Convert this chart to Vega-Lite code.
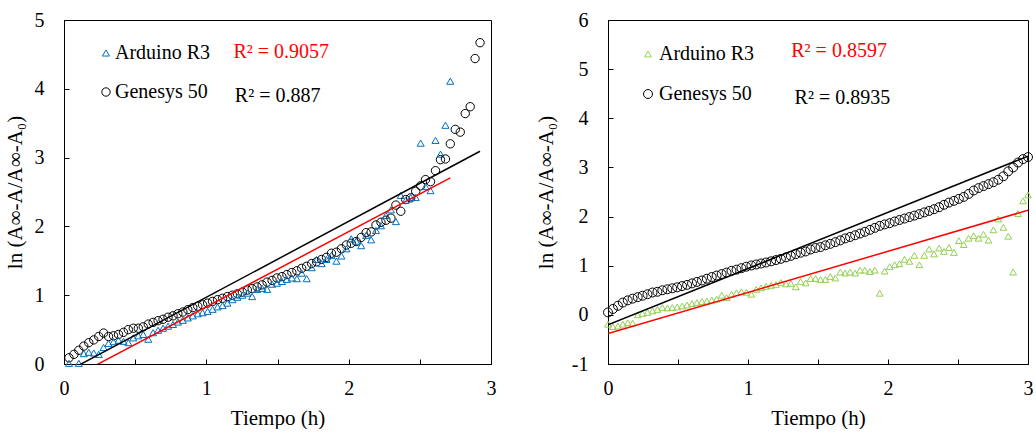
{
  "$schema": "https://vega.github.io/schema/vega-lite/v6.json",
  "background": "white",
  "padding": {"left": 3, "top": 9, "right": 0, "bottom": 0},
  "bounds": "flush",
  "spacing": 117,
  "datasets": {
    "left": [
      {"t":0.035,"Arduino R3":0.01,"Genesys 50":0.09},
      {"t":0.070,"Genesys 50":0.14},
      {"t":0.104,"Arduino R3":0.01,"Genesys 50":0.20},
      {"t":0.139,"Arduino R3":0.15,"Genesys 50":0.26},
      {"t":0.174,"Arduino R3":0.17,"Genesys 50":0.31},
      {"t":0.209,"Arduino R3":0.16,"Genesys 50":0.35},
      {"t":0.244,"Arduino R3":0.14,"Genesys 50":0.40},
      {"t":0.278,"Arduino R3":0.24,"Genesys 50":0.45},
      {"t":0.313,"Arduino R3":0.30,"Genesys 50":0.40},
      {"t":0.348,"Arduino R3":0.325,"Genesys 50":0.41},
      {"t":0.383,"Arduino R3":0.345,"Genesys 50":0.43},
      {"t":0.418,"Arduino R3":0.33,"Genesys 50":0.46},
      {"t":0.452,"Arduino R3":0.31,"Genesys 50":0.50},
      {"t":0.487,"Arduino R3":0.38,"Genesys 50":0.52},
      {"t":0.522,"Arduino R3":0.41,"Genesys 50":0.52},
      {"t":0.557,"Arduino R3":0.43,"Genesys 50":0.54},
      {"t":0.592,"Arduino R3":0.36,"Genesys 50":0.58},
      {"t":0.626,"Arduino R3":0.455,"Genesys 50":0.605},
      {"t":0.661,"Arduino R3":0.49,"Genesys 50":0.63},
      {"t":0.696,"Arduino R3":0.52,"Genesys 50":0.65},
      {"t":0.731,"Arduino R3":0.55,"Genesys 50":0.68},
      {"t":0.766,"Arduino R3":0.575,"Genesys 50":0.70},
      {"t":0.800,"Arduino R3":0.61,"Genesys 50":0.73},
      {"t":0.835,"Arduino R3":0.635,"Genesys 50":0.755},
      {"t":0.870,"Arduino R3":0.67,"Genesys 50":0.79},
      {"t":0.905,"Arduino R3":0.70,"Genesys 50":0.82},
      {"t":0.940,"Arduino R3":0.73,"Genesys 50":0.84},
      {"t":0.974,"Arduino R3":0.745,"Genesys 50":0.86},
      {"t":1.009,"Arduino R3":0.765,"Genesys 50":0.885},
      {"t":1.044,"Arduino R3":0.795,"Genesys 50":0.91},
      {"t":1.079,"Arduino R3":0.83,"Genesys 50":0.935},
      {"t":1.114,"Arduino R3":0.85,"Genesys 50":0.955},
      {"t":1.148,"Arduino R3":0.885,"Genesys 50":0.98},
      {"t":1.183,"Arduino R3":0.935,"Genesys 50":1.00},
      {"t":1.218,"Arduino R3":0.97,"Genesys 50":1.02},
      {"t":1.253,"Arduino R3":1.00,"Genesys 50":1.045},
      {"t":1.288,"Arduino R3":1.03,"Genesys 50":1.075},
      {"t":1.322,"Arduino R3":0.98,"Genesys 50":1.095},
      {"t":1.357,"Arduino R3":1.085,"Genesys 50":1.12},
      {"t":1.392,"Arduino R3":1.10,"Genesys 50":1.15},
      {"t":1.427,"Arduino R3":1.085,"Genesys 50":1.19},
      {"t":1.462,"Arduino R3":1.16,"Genesys 50":1.215},
      {"t":1.496,"Arduino R3":1.175,"Genesys 50":1.25},
      {"t":1.531,"Arduino R3":1.20,"Genesys 50":1.27},
      {"t":1.566,"Arduino R3":1.23,"Genesys 50":1.30},
      {"t":1.601,"Arduino R3":1.25,"Genesys 50":1.33},
      {"t":1.636,"Arduino R3":1.24,"Genesys 50":1.355},
      {"t":1.670,"Arduino R3":1.32,"Genesys 50":1.39},
      {"t":1.705,"Arduino R3":1.24,"Genesys 50":1.42},
      {"t":1.740,"Arduino R3":1.40,"Genesys 50":1.46},
      {"t":1.775,"Arduino R3":1.52,"Genesys 50":1.485},
      {"t":1.810,"Arduino R3":1.46,"Genesys 50":1.52},
      {"t":1.844,"Arduino R3":1.52,"Genesys 50":1.55},
      {"t":1.879,"Arduino R3":1.58,"Genesys 50":1.61},
      {"t":1.914,"Arduino R3":1.495,"Genesys 50":1.625},
      {"t":1.949,"Arduino R3":1.57,"Genesys 50":1.675},
      {"t":1.984,"Arduino R3":1.675,"Genesys 50":1.73},
      {"t":2.018,"Arduino R3":1.82,"Genesys 50":1.755},
      {"t":2.053,"Arduino R3":1.785,"Genesys 50":1.78},
      {"t":2.088,"Arduino R3":1.72,"Genesys 50":1.84},
      {"t":2.123,"Arduino R3":1.87,"Genesys 50":1.91},
      {"t":2.158,"Arduino R3":1.805,"Genesys 50":1.92},
      {"t":2.192,"Arduino R3":1.94,"Genesys 50":2.02},
      {"t":2.227,"Arduino R3":2.01,"Genesys 50":2.06},
      {"t":2.262,"Arduino R3":2.16,"Genesys 50":2.09},
      {"t":2.297,"Arduino R3":2.24,"Genesys 50":2.12},
      {"t":2.332,"Arduino R3":2.07,"Genesys 50":2.31},
      {"t":2.366,"Arduino R3":2.45,"Genesys 50":2.22},
      {"t":2.401,"Arduino R3":2.38,"Genesys 50":2.39},
      {"t":2.436,"Arduino R3":2.42,"Genesys 50":2.415},
      {"t":2.471,"Arduino R3":2.42,"Genesys 50":2.51},
      {"t":2.506,"Arduino R3":3.21,"Genesys 50":2.59},
      {"t":2.540,"Arduino R3":2.58,"Genesys 50":2.68},
      {"t":2.575,"Arduino R3":2.52,"Genesys 50":2.65},
      {"t":2.610,"Arduino R3":3.25,"Genesys 50":2.81},
      {"t":2.645,"Arduino R3":3.05,"Genesys 50":2.97},
      {"t":2.680,"Arduino R3":3.47,"Genesys 50":2.98},
      {"t":2.714,"Arduino R3":4.11,"Genesys 50":3.20},
      {"t":2.749,"Genesys 50":3.41},
      {"t":2.784,"Genesys 50":3.37},
      {"t":2.819,"Genesys 50":3.64},
      {"t":2.854,"Genesys 50":3.74},
      {"t":2.888,"Genesys 50":4.44},
      {"t":2.923,"Genesys 50":4.67}
    ],
    "right": [
      {"t":0.000,"Arduino R3":-0.19,"Genesys 50":0.05},
      {"t":0.035,"Arduino R3":-0.24,"Genesys 50":0.12},
      {"t":0.071,"Arduino R3":-0.23,"Genesys 50":0.185},
      {"t":0.106,"Arduino R3":-0.19,"Genesys 50":0.25},
      {"t":0.141,"Arduino R3":-0.16,"Genesys 50":0.295},
      {"t":0.176,"Arduino R3":-0.17,"Genesys 50":0.33},
      {"t":0.212,"Arduino R3":0.00,"Genesys 50":0.36},
      {"t":0.247,"Arduino R3":0.03,"Genesys 50":0.39},
      {"t":0.282,"Arduino R3":0.05,"Genesys 50":0.42},
      {"t":0.318,"Arduino R3":0.08,"Genesys 50":0.455},
      {"t":0.353,"Arduino R3":0.11,"Genesys 50":0.47},
      {"t":0.388,"Arduino R3":0.15,"Genesys 50":0.50},
      {"t":0.424,"Arduino R3":0.14,"Genesys 50":0.52},
      {"t":0.459,"Arduino R3":0.15,"Genesys 50":0.54},
      {"t":0.494,"Arduino R3":0.16,"Genesys 50":0.56},
      {"t":0.529,"Arduino R3":0.18,"Genesys 50":0.585},
      {"t":0.565,"Arduino R3":0.20,"Genesys 50":0.61},
      {"t":0.600,"Arduino R3":0.23,"Genesys 50":0.64},
      {"t":0.635,"Arduino R3":0.25,"Genesys 50":0.67},
      {"t":0.671,"Arduino R3":0.27,"Genesys 50":0.70},
      {"t":0.706,"Arduino R3":0.28,"Genesys 50":0.735},
      {"t":0.741,"Arduino R3":0.30,"Genesys 50":0.77},
      {"t":0.776,"Arduino R3":0.32,"Genesys 50":0.80},
      {"t":0.812,"Arduino R3":0.40,"Genesys 50":0.83},
      {"t":0.847,"Arduino R3":0.35,"Genesys 50":0.86},
      {"t":0.882,"Arduino R3":0.42,"Genesys 50":0.895},
      {"t":0.918,"Arduino R3":0.45,"Genesys 50":0.92},
      {"t":0.953,"Arduino R3":0.47,"Genesys 50":0.95},
      {"t":0.988,"Arduino R3":0.46,"Genesys 50":0.98},
      {"t":1.024,"Arduino R3":0.42,"Genesys 50":1.005},
      {"t":1.059,"Arduino R3":0.52,"Genesys 50":1.025},
      {"t":1.094,"Arduino R3":0.55,"Genesys 50":1.045},
      {"t":1.129,"Arduino R3":0.58,"Genesys 50":1.065},
      {"t":1.165,"Arduino R3":0.60,"Genesys 50":1.09},
      {"t":1.200,"Arduino R3":0.62,"Genesys 50":1.115},
      {"t":1.235,"Arduino R3":0.66,"Genesys 50":1.14},
      {"t":1.271,"Arduino R3":0.63,"Genesys 50":1.17},
      {"t":1.306,"Arduino R3":0.64,"Genesys 50":1.20},
      {"t":1.341,"Arduino R3":0.57,"Genesys 50":1.235},
      {"t":1.376,"Arduino R3":0.68,"Genesys 50":1.265},
      {"t":1.412,"Arduino R3":0.65,"Genesys 50":1.29},
      {"t":1.447,"Arduino R3":0.74,"Genesys 50":1.33},
      {"t":1.482,"Arduino R3":0.74,"Genesys 50":1.36},
      {"t":1.518,"Arduino R3":0.72,"Genesys 50":1.38},
      {"t":1.553,"Arduino R3":0.72,"Genesys 50":1.415},
      {"t":1.588,"Arduino R3":0.78,"Genesys 50":1.445},
      {"t":1.624,"Arduino R3":0.75,"Genesys 50":1.48},
      {"t":1.659,"Arduino R3":0.87,"Genesys 50":1.515},
      {"t":1.694,"Arduino R3":0.85,"Genesys 50":1.555},
      {"t":1.729,"Arduino R3":0.87,"Genesys 50":1.585},
      {"t":1.765,"Arduino R3":0.85,"Genesys 50":1.62},
      {"t":1.800,"Arduino R3":0.91,"Genesys 50":1.655},
      {"t":1.835,"Arduino R3":0.91,"Genesys 50":1.69},
      {"t":1.871,"Arduino R3":0.88,"Genesys 50":1.73},
      {"t":1.906,"Arduino R3":0.91,"Genesys 50":1.77},
      {"t":1.941,"Arduino R3":0.44,"Genesys 50":1.81},
      {"t":1.976,"Arduino R3":0.89,"Genesys 50":1.84},
      {"t":2.012,"Arduino R3":0.98,"Genesys 50":1.865},
      {"t":2.047,"Arduino R3":1.02,"Genesys 50":1.90},
      {"t":2.082,"Arduino R3":1.04,"Genesys 50":1.93},
      {"t":2.118,"Arduino R3":1.13,"Genesys 50":1.96},
      {"t":2.153,"Arduino R3":1.09,"Genesys 50":1.99},
      {"t":2.188,"Arduino R3":1.21,"Genesys 50":2.02},
      {"t":2.224,"Arduino R3":1.02,"Genesys 50":2.05},
      {"t":2.259,"Arduino R3":1.21,"Genesys 50":2.085},
      {"t":2.294,"Arduino R3":1.34,"Genesys 50":2.115},
      {"t":2.329,"Arduino R3":1.24,"Genesys 50":2.15},
      {"t":2.365,"Arduino R3":1.36,"Genesys 50":2.19},
      {"t":2.400,"Arduino R3":1.29,"Genesys 50":2.24},
      {"t":2.435,"Arduino R3":1.37,"Genesys 50":2.285},
      {"t":2.471,"Arduino R3":1.27,"Genesys 50":2.32},
      {"t":2.506,"Arduino R3":1.51,"Genesys 50":2.36},
      {"t":2.541,"Arduino R3":1.43,"Genesys 50":2.40},
      {"t":2.576,"Arduino R3":1.56,"Genesys 50":2.46},
      {"t":2.612,"Arduino R3":1.61,"Genesys 50":2.53},
      {"t":2.647,"Arduino R3":1.56,"Genesys 50":2.58},
      {"t":2.682,"Arduino R3":1.64,"Genesys 50":2.62},
      {"t":2.718,"Arduino R3":1.52,"Genesys 50":2.66},
      {"t":2.753,"Arduino R3":1.73,"Genesys 50":2.70},
      {"t":2.788,"Arduino R3":1.95,"Genesys 50":2.75},
      {"t":2.824,"Arduino R3":1.78,"Genesys 50":2.82},
      {"t":2.859,"Arduino R3":1.60,"Genesys 50":2.92},
      {"t":2.894,"Arduino R3":0.87,"Genesys 50":3.00},
      {"t":2.929,"Arduino R3":2.06,"Genesys 50":3.10},
      {"t":2.965,"Arduino R3":2.32,"Genesys 50":3.17},
      {"t":3.000,"Arduino R3":2.44,"Genesys 50":3.21}
    ]
  },
  "hconcat": [
    {
      "width": 427,
      "height": 344,
      "layer": [
        {
          "data": {"name": "left"},
          "transform": [
            {"fold": ["Genesys 50", "Arduino R3"], "as": ["serie", "v"]},
            {"filter": "isValid(datum.v)"}
          ],
          "mark": {"type": "point", "filled": false, "opacity": 1, "strokeWidth": 1},
          "encoding": {
            "x": {"field": "t", "type": "quantitative", "title": "Tiempo (h)",
              "scale": {"domain": [0, 3], "nice": false, "zero": false},
              "axis": {"values": [0,0.25,0.5,0.75,1,1.25,1.5,1.75,2,2.25,2.5,2.75,3], "labelExpr": "datum.value % 1 === 0 ? '' + datum.value : ''"}},
            "y": {"field": "v", "type": "quantitative", "title": "ln (A∞-A/A∞-A₀)",
              "scale": {"domain": [0, 5], "nice": false, "zero": false},
              "axis": {"values": [0,0.5,1,1.5,2,2.5,3,3.5,4,4.5,5], "labelExpr": "datum.value % 1 === 0 ? '' + datum.value : ''", "titlePadding": 9}},
            "color": {"field": "serie", "type": "nominal",
              "scale": {"domain": ["Arduino R3", "Genesys 50"], "range": ["#0070C0", "#000000"]},
              "legend": {"orient": "none", "legendX": 32, "legendY": 23, "title": null, "rowPadding": 19, "labelFontSize": 20, "labelOffset": -1}},
            "shape": {"field": "serie", "type": "nominal",
              "scale": {"domain": ["Arduino R3", "Genesys 50"], "range": ["triangle-up", "circle"]},
              "legend": {"orient": "none", "legendX": 32, "legendY": 23, "title": null, "rowPadding": 19, "labelFontSize": 20, "labelOffset": -1}},
            "size": {"field": "serie", "type": "nominal",
              "scale": {"domain": ["Arduino R3", "Genesys 50"], "range": [50, 70]}, "legend": null}
          }
        },
        {
          "data": {"values": [{"t": 0.035, "v": -0.094}, {"t": 2.923, "v": 3.092}]},
          "mark": {"type": "line", "color": "#000000", "strokeWidth": 1.5, "clip": true},
          "encoding": {"x": {"field": "t", "type": "quantitative"}, "y": {"field": "v", "type": "quantitative"}}
        },
        {
          "data": {"values": [{"t": 0.035, "v": -0.224}, {"t": 2.714, "v": 2.705}]},
          "mark": {"type": "line", "color": "#FF0000", "strokeWidth": 1.5, "clip": true},
          "encoding": {"x": {"field": "t", "type": "quantitative"}, "y": {"field": "v", "type": "quantitative"}}
        },
        {
          "data": {"values": [{}]},
          "mark": {"type": "text", "align": "left", "baseline": "middle", "fontSize": 20, "font": "Liberation Serif", "color": "#FF0000"},
          "encoding": {"x": {"datum": 1.19, "type": "quantitative"}, "y": {"datum": 4.53, "type": "quantitative"}, "text": {"value": "R² = 0.9057"}}
        },
        {
          "data": {"values": [{}]},
          "mark": {"type": "text", "align": "left", "baseline": "middle", "fontSize": 20, "font": "Liberation Serif", "color": "#000000"},
          "encoding": {"x": {"datum": 1.2, "type": "quantitative"}, "y": {"datum": 3.9, "type": "quantitative"}, "text": {"value": "R² = 0.887"}}
        }
      ]
    },
    {
      "width": 420,
      "height": 344,
      "layer": [
        {
          "data": {"name": "right"},
          "transform": [
            {"fold": ["Genesys 50", "Arduino R3"], "as": ["serie", "v"]},
            {"filter": "isValid(datum.v)"}
          ],
          "mark": {"type": "point", "filled": false, "opacity": 1, "strokeWidth": 1},
          "encoding": {
            "x": {"field": "t", "type": "quantitative", "title": "Tiempo (h)",
              "scale": {"domain": [0, 3], "nice": false, "zero": false},
              "axis": {"values": [0,0.25,0.5,0.75,1,1.25,1.5,1.75,2,2.25,2.5,2.75,3], "labelExpr": "datum.value % 1 === 0 ? '' + datum.value : ''"}},
            "y": {"field": "v", "type": "quantitative", "title": "ln (A∞-A/A∞-A₀)",
              "scale": {"domain": [-1, 6], "nice": false, "zero": false},
              "axis": {"values": [-1,-0.5,0,0.5,1,1.5,2,2.5,3,3.5,4,4.5,5,5.5,6], "labelExpr": "datum.value % 1 === 0 ? '' + datum.value : ''", "titlePadding": 15}},
            "color": {"field": "serie", "type": "nominal",
              "scale": {"domain": ["Arduino R3", "Genesys 50"], "range": ["#92D050", "#000000"]},
              "legend": {"orient": "none", "legendX": 30, "legendY": 24, "title": null, "rowPadding": 20, "labelFontSize": 20, "labelOffset": 1}},
            "shape": {"field": "serie", "type": "nominal",
              "scale": {"domain": ["Arduino R3", "Genesys 50"], "range": ["triangle-up", "circle"]},
              "legend": {"orient": "none", "legendX": 30, "legendY": 24, "title": null, "rowPadding": 20, "labelFontSize": 20, "labelOffset": 1}},
            "size": {"field": "serie", "type": "nominal",
              "scale": {"domain": ["Arduino R3", "Genesys 50"], "range": [45, 80]}, "legend": null}
          }
        },
        {
          "data": {"values": [{"t": 0, "v": -0.2}, {"t": 3, "v": 3.23}]},
          "mark": {"type": "line", "color": "#000000", "strokeWidth": 1.5, "clip": true},
          "encoding": {"x": {"field": "t", "type": "quantitative"}, "y": {"field": "v", "type": "quantitative"}}
        },
        {
          "data": {"values": [{"t": 0, "v": -0.38}, {"t": 3, "v": 2.13}]},
          "mark": {"type": "line", "color": "#FF0000", "strokeWidth": 1.5, "clip": true},
          "encoding": {"x": {"field": "t", "type": "quantitative"}, "y": {"field": "v", "type": "quantitative"}}
        },
        {
          "data": {"values": [{}]},
          "mark": {"type": "text", "align": "left", "baseline": "middle", "fontSize": 20, "font": "Liberation Serif", "color": "#FF0000"},
          "encoding": {"x": {"datum": 1.309, "type": "quantitative"}, "y": {"datum": 5.37, "type": "quantitative"}, "text": {"value": "R² = 0.8597"}}
        },
        {
          "data": {"values": [{}]},
          "mark": {"type": "text", "align": "left", "baseline": "middle", "fontSize": 20, "font": "Liberation Serif", "color": "#000000"},
          "encoding": {"x": {"datum": 1.333, "type": "quantitative"}, "y": {"datum": 4.42, "type": "quantitative"}, "text": {"value": "R² = 0.8935"}}
        }
      ]
    }
  ],
  "resolve": {
    "scale": {"x": "independent", "y": "independent", "color": "independent", "shape": "independent", "size": "independent"},
    "legend": {"color": "independent", "shape": "independent"}
  },
  "config": {
    "view": {"stroke": "#000000", "strokeWidth": 1},
    "font": "Liberation Serif",
    "axis": {
      "grid": false, "domainColor": "#000000", "domainWidth": 1, "tickColor": "#000000", "tickWidth": 1, "tickSize": -5,
      "labelFont": "Liberation Serif", "labelFontSize": 20, "labelColor": "#000000",
      "titleFont": "Liberation Serif", "titleFontSize": 21, "titleFontWeight": "normal", "titleColor": "#000000"
    },
    "axisX": {"labelPadding": 19, "titlePadding": 9, "labelFlush": false},
    "axisY": {"labelPadding": 25},
    "legend": {
      "labelFont": "Liberation Serif", "labelFontSize": 20, "labelColor": "#000000",
      "symbolSize": 30, "symbolStrokeWidth": 1, "padding": 0
    }
  }
}
